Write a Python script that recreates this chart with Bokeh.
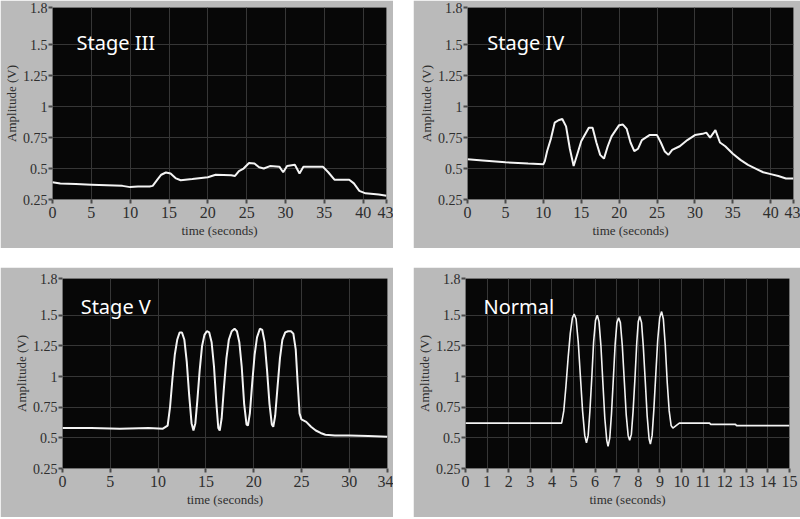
from bokeh.plotting import figure
from bokeh.layouts import column, row
from bokeh.models import FixedTicker, Label, Spacer
from bokeh.embed import file_html
from bokeh.resources import INLINE

# ---------------- data ----------------
y_ticks = [0.25, 0.5, 0.75, 1, 1.25, 1.5, 1.8]

s3_t = [0, 1, 3, 5, 7, 9, 10, 11, 12.5, 12.9, 13.5, 14.0, 14.6, 15.2, 15.9, 16.5, 18, 20, 21, 23, 23.5, 24, 24.6,
        25.3, 26.0, 26.6, 27.2, 28, 29.2, 29.7, 30.2, 31.2, 31.8, 32.3, 33.5, 34.8, 35.5, 36.3, 38.2, 38.8, 39.5,
        40.3, 42, 43]
s3_v = [0.39, 0.38, 0.375, 0.37, 0.365, 0.36, 0.35, 0.355, 0.355, 0.36, 0.41, 0.45, 0.468, 0.46, 0.42, 0.405, 0.415,
        0.43, 0.45, 0.445, 0.44, 0.48, 0.50, 0.545, 0.54, 0.51, 0.50, 0.52, 0.515, 0.47, 0.52, 0.53, 0.46, 0.515,
        0.515, 0.515, 0.47, 0.41, 0.41, 0.38, 0.32, 0.30, 0.29, 0.28]

s4_t = [0, 2, 5, 8, 10, 10.2, 10.5, 11, 11.5, 12, 12.5, 13, 13.5, 14, 14.5, 15, 16, 16.5, 17, 17.5, 18, 18.5, 19, 20,
        20.5, 21, 21.5, 22, 22.5, 23, 24, 25, 25.5, 26, 26.5, 27, 28, 29, 30, 31, 31.5, 32, 32.7, 33.3, 34, 35, 36,
        37, 38, 39, 40, 41, 42, 43]
s4_v = [0.575, 0.565, 0.55, 0.54, 0.535, 0.56, 0.64, 0.74, 0.87, 0.89, 0.90, 0.84, 0.66, 0.52, 0.62, 0.72, 0.83,
        0.83, 0.71, 0.61, 0.58, 0.68, 0.76, 0.85, 0.855, 0.82, 0.71, 0.64, 0.66, 0.73, 0.77, 0.77, 0.71, 0.64, 0.61,
        0.65, 0.68, 0.73, 0.77, 0.78, 0.79, 0.75, 0.81, 0.71, 0.68, 0.62, 0.57, 0.53, 0.50, 0.47, 0.455, 0.44, 0.42,
        0.42]

s5_t = [0, 3, 6, 9, 10.5, 11.0, 11.25, 11.5, 11.75, 12.0, 12.25, 12.5, 12.75, 13.0, 13.25, 13.5, 13.7, 13.9, 14.1,
        14.35, 14.6, 14.85, 15.1, 15.35, 15.6, 15.85, 16.1, 16.3, 16.45, 16.65, 16.9, 17.15, 17.4, 17.7, 18.0, 18.25,
        18.5, 18.75, 19.0, 19.25, 19.4, 19.6, 19.85, 20.1, 20.35, 20.65, 20.9, 21.15, 21.4, 21.65, 21.9, 22.05, 22.25,
        22.5, 22.75, 23.0, 23.3, 23.6, 23.9, 24.15, 24.4, 24.6, 24.8, 25.0, 25.5, 26.0, 26.5, 27.0, 27.5, 28.5, 30,
        32, 34]
s5_v = [0.58, 0.58, 0.575, 0.58, 0.575, 0.60, 0.75, 0.98, 1.18, 1.30, 1.36, 1.36, 1.30, 1.12, 0.85, 0.62, 0.56,
        0.62, 0.80, 1.05, 1.25, 1.34, 1.37, 1.36, 1.28, 1.08, 0.78, 0.58, 0.56, 0.66, 0.92, 1.15, 1.30, 1.37, 1.39,
        1.37, 1.28, 1.08, 0.78, 0.61, 0.60, 0.70, 0.95, 1.18, 1.32, 1.39, 1.38, 1.28, 1.05, 0.78, 0.61, 0.59, 0.68,
        0.92, 1.15, 1.30, 1.36, 1.37, 1.37, 1.35, 1.22, 0.95, 0.70, 0.65, 0.63, 0.59, 0.56, 0.54, 0.525, 0.52, 0.52,
        0.515, 0.51]

n_t = [0, 2, 4, 4.45, 4.55, 4.65, 4.75, 4.85, 4.95, 5.03, 5.12, 5.22, 5.32, 5.42, 5.52, 5.6, 5.68, 5.76, 5.85, 5.93,
       6.02, 6.1, 6.18, 6.27, 6.36, 6.45, 6.54, 6.6, 6.68, 6.76, 6.85, 6.93, 7.01, 7.09, 7.17, 7.26, 7.35, 7.44,
       7.53, 7.6, 7.68, 7.76, 7.85, 7.93, 8.0, 8.07, 8.15, 8.23, 8.32, 8.41, 8.5, 8.56, 8.64, 8.72, 8.81, 8.9, 8.99,
       9.08, 9.16, 9.25, 9.34, 9.43, 9.52, 9.6, 9.75, 9.9, 11.3, 11.35, 12.5, 12.55, 15]
n_v = [0.62, 0.62, 0.62, 0.62, 0.72, 0.92, 1.15, 1.35, 1.48, 1.51, 1.47, 1.28, 1.0, 0.72, 0.52, 0.46, 0.52, 0.72,
       1.0, 1.28, 1.46, 1.50, 1.45, 1.25, 0.95, 0.66, 0.48, 0.43, 0.50, 0.70, 1.0, 1.27, 1.44, 1.48, 1.44, 1.25,
       0.97, 0.69, 0.52, 0.48, 0.53, 0.72, 1.0, 1.28, 1.45, 1.49, 1.44, 1.25, 0.97, 0.68, 0.49, 0.45, 0.52, 0.73,
       1.02, 1.30, 1.48, 1.53, 1.47, 1.25, 0.95, 0.72, 0.60, 0.58, 0.60, 0.62, 0.62, 0.61, 0.61, 0.60, 0.60]

x_ticks_43 = [0, 5, 10, 15, 20, 25, 30, 35, 40, 43]
x_ticks_34 = [0, 5, 10, 15, 20, 25, 30, 34]
x_ticks_15 = list(range(0, 16))

GRAY = "#bababa"
TXT = "#2e2e2e"
SERIF = "Liberation Serif"


def panel(title, t, v, xmax, xticks, w, h, lb, rb, tb, bb, tx, ty, lw=2.0):
    p = figure(width=w, height=h, x_range=(0, xmax), y_range=(0.25, 1.8),
               output_backend="svg", toolbar_location=None,
               background_fill_color="#070707", border_fill_color=GRAY,
               min_border_left=lb, min_border_right=rb, min_border_top=tb, min_border_bottom=bb)
    p.outline_line_color = None
    p.xaxis.ticker = FixedTicker(ticks=xticks)
    p.yaxis.ticker = FixedTicker(ticks=y_ticks)
    p.xaxis.major_label_overrides = {k: str(k) for k in xticks}
    p.yaxis.major_label_overrides = {0.25: "0.25", 0.5: "0.5", 0.75: "0.75", 1: "1",
                                     1.25: "1.25", 1.5: "1.5", 1.8: "1.8"}
    p.xaxis.axis_label = "time (seconds)"
    p.yaxis.axis_label = "Amplitude (V)"
    for ax in (p.xaxis, p.yaxis):
        ax.axis_line_color = None
        ax.major_tick_line_color = "#4a4a4a"
        ax.major_tick_line_width = 2
        ax.major_tick_in = 0
        ax.major_tick_out = 4
        ax.minor_tick_line_color = None
        ax.major_label_text_font = SERIF
        ax.major_label_text_color = TXT
        ax.axis_label_text_font = SERIF
        ax.axis_label_text_font_style = "normal"
        ax.axis_label_text_color = TXT
    p.xaxis.axis_label_text_font_size = "13px"
    p.yaxis.axis_label_text_font_size = "13px"
    p.xaxis.major_label_text_font_size = "16px"
    p.yaxis.major_label_text_font_size = "14px"
    p.xaxis.major_label_standoff = 3
    p.yaxis.major_label_standoff = 1
    p.xaxis.axis_label_standoff = 2
    p.yaxis.axis_label_standoff = 1
    p.xgrid.grid_line_color = "#363636"
    p.ygrid.grid_line_color = "#363636"
    p.xgrid.grid_line_width = 1
    p.ygrid.grid_line_width = 1
    p.line(t, v, line_color="#f4f4f4", line_width=lw)
    p.add_layout(Label(x=tx, y=ty, text=title, text_color="white", text_font="Noto Sans",
                       text_font_size="20px", text_baseline="alphabetic"))
    return p


p1 = panel("Stage III", s3_t, s3_v, 43, x_ticks_43, 393, 248, 52, 7, 7, 49, 3.1, 1.52)
p2 = panel("Stage IV", s4_t, s4_v, 43, x_ticks_43, 387, 248, 54, 7, 7, 49, 2.6, 1.52)
p3 = panel("Stage V", s5_t, s5_v, 34, x_ticks_34, 393, 250, 62, 6, 11, 49, 1.9, 1.575)
p4 = panel("Normal", n_t, n_v, 15, x_ticks_15, 387, 250, 50, 11, 11, 48, 0.83, 1.57, lw=1.6)

layout = column(row(p1, Spacer(width=20), p2), Spacer(height=19), row(p3, Spacer(width=20), p4),
                styles={"position": "absolute", "left": "0px", "top": "0px"})

open("out.html", "w").write(file_html(layout, INLINE))
